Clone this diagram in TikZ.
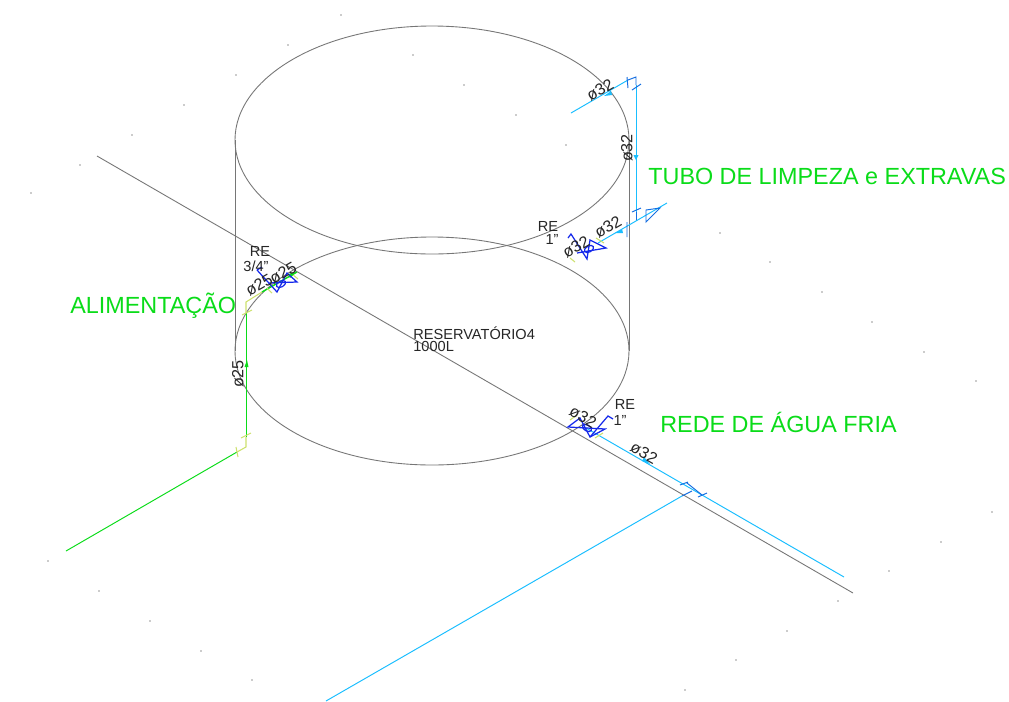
\documentclass[tikz,border=0pt]{standalone}
\usepackage{fontspec}
\setmainfont{Liberation Sans}
\definecolor{cadgrey}{RGB}{118,118,118}
\definecolor{cadgreen}{RGB}{10,220,25}
\definecolor{cadcyan}{RGB}{25,190,255}
\definecolor{cadblue}{RGB}{20,40,235}
\definecolor{cadmid}{RGB}{20,110,225}
\definecolor{cadyellow}{RGB}{205,225,110}
\tikzset{
 x=0.02cm,y=-0.02cm,
 tank/.style={draw=cadgrey,line width=0.5pt},
 pipeg/.style={draw=cadgreen,line width=0.55pt},
 pipec/.style={draw=cadcyan,line width=0.55pt},
 valve/.style={draw=cadblue,line width=0.7pt},
 tick/.style={draw=cadmid,line width=0.55pt},
 ytick/.style={draw=cadyellow,line width=0.6pt},
 lab/.style={inner sep=0pt,font=\fontsize{8.3}{8.3}\selectfont,text=black!85},
 rlab/.style={inner sep=0pt,font=\fontsize{9.2}{9.2}\selectfont,text=black!85},
 title/.style={inner sep=0pt,font=\fontsize{13.3}{13.3}\selectfont,text=cadgreen}
}
\begin{document}
\begin{tikzpicture}
\useasboundingbox (0,0) rectangle (1009,701);
\fill[white] (0,0) rectangle (1009,701);
% grid dots
\foreach \p in {(341,15),(288,45),(236,75),(184,105),(132,135),(80,165),(31,193),
 (413,55),(464,85),(516,115),(566,145),(720,233),(770,262),(822,292),(872,322),(924,352),(976,381),
 (992,512),(941,542),(889,571),(838,601),(787,631),(736,660),(685,690),
 (48,561),(99,591),(150,621),(201,651),(252,680)}
 {\fill[black!85] \p circle[radius=0.7];}
% tank
\draw[tank] (432,140) ellipse[x radius=197,y radius=114];
\draw[tank] (432,351) ellipse[x radius=197,y radius=114];
\coordinate (tl) at (235,140); \coordinate (bl) at (235,351);
\coordinate (tr) at (629,140); \coordinate (br) at (629,351);
\draw[tank] (tl) -- (bl);
\draw[tank] (tr) -- (br);
% axis
\coordinate (axA) at (97,156); \coordinate (axB) at (853,593);
\draw[tank] (axA) -- (axB);
% green feed
\coordinate (g1) at (66,551); \coordinate (g2) at (237,452); \coordinate (g2b) at (246,447);
\coordinate (g3) at (246,437); \coordinate (g4) at (246,313); \coordinate (g4b) at (246,302);
\coordinate (g5) at (262,292); \coordinate (g6) at (297,272);
\draw[pipeg] (g1) -- (g2);
\draw[pipeg] (g3) -- (g4);
\draw[pipeg,line width=0.8pt] (g5) -- (g6);
\draw[ytick] (g2) -- (g2b) -- (g3);
\draw[ytick] (236,447) -- (238,457);
\draw[ytick] (241,438) -- (251,433);
\draw[ytick] (g4) -- (g4b) -- (g5);
\draw[ytick] (242,315) -- (252,310);
\draw[ytick] (267,288) -- (272,293) (292,274) -- (298,279);
\fill[cadgreen] (247,360) -- (244.5,367) -- (248.5,367) -- cycle;
\fill[cadgreen] (296,272) -- (288,274) -- (290,278) -- cycle;
% feed valve
\draw[valve] (257,270) -- (277,292) -- (287,273) -- (297,282) -- (268,283);
\draw[valve] (257,270) -- (262,267);
\draw[valve,rotate around={30:(281,284)}] (281,284) ellipse[x radius=5,y radius=3];
% upper cyan
\coordinate (c1) at (571,113); \coordinate (c2) at (628,80); \coordinate (c3) at (636,77);
\coordinate (c3b) at (636,85); \coordinate (c4) at (636,212); \coordinate (c4b) at (636,221);
\coordinate (c5) at (667,203); \coordinate (c6) at (598,243);
\draw[pipec] (c1) -- (c2);
\draw[tick] (c2) -- (c3) -- (c3b);
\draw[pipec] (c3b) -- (c4);
\draw[tick] (c4) -- (c4b);
\draw[pipec] (c6) -- (c5);
\fill[cadcyan] (604,96) -- (611,91) -- (612,95) -- cycle;
\fill[cadcyan] (636,160) -- (633.5,155) -- (638.5,155) -- cycle;
\fill[cadcyan] (615,233) -- (622,229) -- (623,233) -- cycle;
\draw[tick] (627,77) -- (628,88) (632,90) -- (641,84);
\draw[tick] (627,222) -- (627,237) (632,212) -- (641,208);
\draw[tick] (646,210) -- (646,222) -- (660,208) -- cycle;
% upper valve
\draw[valve] (568,238) -- (571,234) -- (587,259) -- (590,240) -- (606,248) -- (577,253);
\draw[valve,rotate around={30:(589,249)}] (589,249) ellipse[x radius=5,y radius=3];
\draw[ytick] (570,258) -- (575,262) (596,238) -- (604,243);
% lower cyan
\coordinate (d1) at (586,428); \coordinate (d2) at (844,577); \coordinate (d3) at (326,701); \coordinate (d4) at (682,496);
\draw[pipec] (d1) -- (d2);
\draw[pipec] (d3) -- (d4);
\fill[cadcyan] (650,464) -- (642,461) -- (644,457) -- cycle;
\draw[tick] (680,485) -- (688,482) (698,497) -- (707,493) (687,483) -- (702,495) (682,496) -- (692,491);
% lower valve
\draw[valve] (568,427) -- (605,429) -- (590,437) -- (580,418) -- cycle;
\draw[valve] (590,437) -- (608,416) -- (613,419);
\draw[valve,rotate around={-30:(587,428)}] (587,428) ellipse[x radius=5,y radius=3];
\draw[ytick] (570,420) -- (577,415) (595,438) -- (603,433);
% labels
\node[lab] (re1) at (260,251) {RE};
\node[lab] (re1b) at (256,266) {3/4"};
\node[rlab,rotate=30] (p25a) at (259,285) {ø25};
\node[rlab,rotate=30] (p25b) at (283,273) {ø25};
\node[rlab,rotate=90] (p25c) at (238,374) {ø25};
\node[lab] (re2) at (548,226) {RE};
\node[lab] (re2b) at (552,239) {1"};
\node[rlab,rotate=30] (p32a) at (576,247) {ø32};
\node[rlab,rotate=30] (p32b) at (608,227) {ø32};
\node[rlab,rotate=30] (p32c) at (600,90) {ø32};
\node[rlab,rotate=90] (p32d) at (627,148) {ø32};
\node[lab] (re3) at (625,404) {RE};
\node[lab] (re3b) at (620,420) {1"};
\node[rlab,rotate=-30] (p32e) at (583,417) {ø32};
\node[rlab,rotate=-30] (p32f) at (644,453) {ø32};
\node[lab,anchor=west] (res) at (413,333) {RESERVATÓRIO4};
\node[lab,anchor=west] (res2) at (413,346) {1000L};
\node[title,anchor=west] (t1) at (648,176) {TUBO DE LIMPEZA e EXTRAVAS};
\node[title,anchor=west] (t2) at (70,306) {ALIMENTAÇÃO};
\node[title,anchor=west] (t3) at (660,422) {REDE DE ÁGUA FRIA};
\end{tikzpicture}
\end{document}
